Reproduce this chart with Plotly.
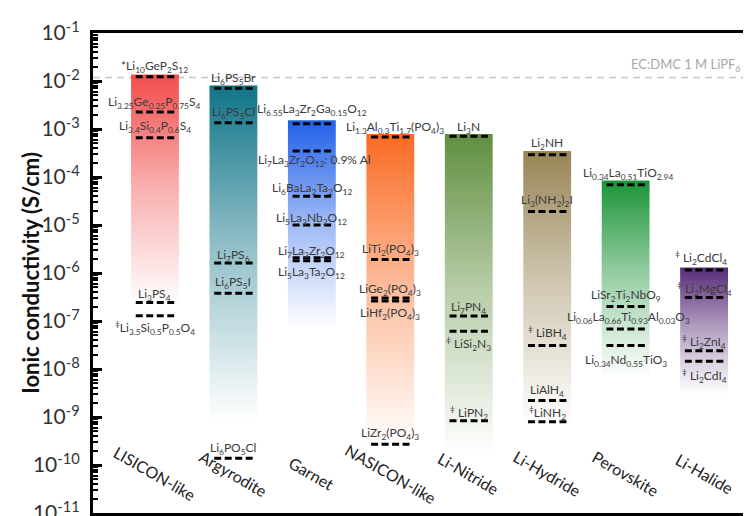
import math
import plotly.graph_objects as go

# ---------------- data ----------------
categories = ["LISICON-like", "Argyrodite", "Garnet", "NASICON-like",
              "Li-Nitride", "Li-Hydride", "Perovskite", "Li-Halide"]

# extent of each coloured column (S/cm)
bar_top = [1.36e-2, 8.1e-3, 1.53e-3, 7.9e-4, 7.9e-4, 3.5e-4, 8.5e-5, 1.30e-6]
bar_bottom = [1.4e-7, 4.5e-10, 5.0e-8, 1.35e-10, 9.0e-11, 3.9e-10, 4.8e-9, 2.7e-9]

lisicon_names = ["*Li<sub>10</sub>GeP<sub>2</sub>S<sub>12</sub>",
                 "Li<sub>3.25</sub>Ge<sub>0.25</sub>P<sub>0.75</sub>S<sub>4</sub>",
                 "Li<sub>3.4</sub>Si<sub>0.4</sub>P<sub>0.6</sub>S<sub>4</sub>",
                 "Li<sub>3</sub>PS<sub>4</sub>",
                 "<sup>‡</sup>Li<sub>3.5</sub>Si<sub>0.5</sub>P<sub>0.5</sub>O<sub>4</sub>"]
lisicon_values = [1.22e-2, 2.25e-3, 6.6e-4, 2.43e-7, 1.29e-7]

argyrodite_names = ["Li<sub>6</sub>PS<sub>5</sub>Br", "Li<sub>6</sub>PS<sub>5</sub>Cl",
                    "Li<sub>7</sub>PS<sub>6</sub>", "Li<sub>6</sub>PS<sub>5</sub>I",
                    "Li<sub>6</sub>PO<sub>5</sub>Cl"]
argyrodite_values = [7.1e-3, 1.35e-3, 1.62e-6, 3.8e-7, 1.38e-10]

garnet_names = ["Li<sub>6.55</sub>La<sub>3</sub>Zr<sub>2</sub>Ga<sub>0.15</sub>O<sub>12</sub>",
                "Li<sub>7</sub>La<sub>3</sub>Zr<sub>2</sub>O<sub>12</sub>: 0.9% Al",
                "Li<sub>6</sub>BaLa<sub>2</sub>Ta<sub>2</sub>O<sub>12</sub>",
                "Li<sub>5</sub>La<sub>3</sub>Nb<sub>2</sub>O<sub>12</sub>",
                "Li<sub>7</sub>La<sub>3</sub>Zr<sub>2</sub>O<sub>12</sub>",
                "Li<sub>5</sub>La<sub>3</sub>Ta<sub>2</sub>O<sub>12</sub>"]
garnet_values = [1.29e-3, 3.5e-4, 3.96e-5, 1.0e-5, 2.09e-6, 1.79e-6]

nasicon_names = ["Li<sub>1.3</sub>Al<sub>0.3</sub>Ti<sub>1.7</sub>(PO<sub>4</sub>)<sub>3</sub>",
                 "LiTi<sub>2</sub>(PO<sub>4</sub>)<sub>3</sub>",
                 "LiGe<sub>2</sub>(PO<sub>4</sub>)<sub>3</sub>",
                 "LiHf<sub>2</sub>(PO<sub>4</sub>)<sub>3</sub>",
                 "LiZr<sub>2</sub>(PO<sub>4</sub>)<sub>3</sub>"]
nasicon_values = [6.8e-4, 1.9e-6, 3.0e-7, 2.6e-7, 2.7e-10]

nitride_names = ["Li<sub>3</sub>N", "Li<sub>7</sub>PN<sub>4</sub>",
                 "<sup>‡</sup> LiSi<sub>2</sub>N<sub>3</sub>", "<sup>‡</sup> LiPN<sub>2</sub>"]
nitride_values = [7.1e-4, 1.27e-7, 6.1e-8, 8.4e-10]

hydride_names = ["Li<sub>2</sub>NH", "Li<sub>3</sub>(NH<sub>2</sub>)<sub>2</sub>I",
                 "<sup>‡</sup> LiBH<sub>4</sub>", "LiAlH<sub>4</sub>",
                 "<sup>‡</sup>LiNH<sub>2</sub>"]
hydride_values = [2.9e-4, 1.9e-5, 3.1e-8, 2.2e-9, 8.0e-10]

perovskite_names = ["Li<sub>0.34</sub>La<sub>0.51</sub>TiO<sub>2.94</sub>",
                    "LiSr<sub>2</sub>Ti<sub>2</sub>NbO<sub>9</sub>",
                    "Li<sub>0.06</sub>La<sub>0.66</sub>Ti<sub>0.93</sub>Al<sub>0.03</sub>O<sub>3</sub>",
                    "Li<sub>0.34</sub>Nd<sub>0.55</sub>TiO<sub>3</sub>"]
perovskite_values = [6.9e-5, 2.0e-7, 6.8e-8, 3.1e-8]

halide_names = ["<sup>‡</sup> Li<sub>2</sub>CdCl<sub>4</sub>",
                "<sup>‡</sup> Li<sub>2</sub>MgCl<sub>4</sub>",
                "<sup>‡</sup> Li<sub>2</sub>ZnI<sub>4</sub>",
                "<sup>‡</sup> Li<sub>2</sub>CdI<sub>4</sub>"]
halide_values = [1.16e-6, 3.1e-7, 2.4e-8, 1.45e-8]

ref_name = "EC:DMC 1 M LiPF<sub>6</sub>"
ref_value = 1.18e-2

y_tick_values = [1e-1, 1e-2, 1e-3, 1e-4, 1e-5, 1e-6, 1e-7, 1e-8, 1e-9, 1e-10, 1e-11]
y_tick_text = ["10<sup>-1</sup>", "10<sup>-2</sup>", "10<sup>-3</sup>", "10<sup>-4</sup>",
               "10<sup>-5</sup>", "10<sup>-6</sup>", "10<sup>-7</sup>", "10<sup>-8</sup>",
               "10<sup>-9</sup>", "10<sup>-10</sup>", "10<sup>-11</sup>"]

# ---------------- styles / positions ----------------
bar_colors = [(242, 72, 72), (8, 112, 132), (28, 92, 232), (250, 102, 28),
              (92, 140, 58), (150, 130, 82), (22, 146, 52), (86, 42, 118)]

# label vertical offset (px, + = above the dash) and horizontal offset (px)
label_dy = [
    [12, 12, 13, 10, -12],
    [12, 12, 9, 13, 12],
    [16, -10, 10, 9, 8, -12],
    [12, 12, 11, -12, 13],
    [11, 11, -13, 10],
    [13, 13, 14, 12, 11],
    [13, 13, 14, -15],
    [14, 10, 11, -15],
]
label_dx = [
    [0, 0, 0, 0, 0],
    [0, 0, 0, 0, 0],
    [0, 3, 0, 0, 0, 0],
    [5, 0, 0, 0, 0],
    [0, 0, 0, 0],
    [0, 0, 0, 0, 0],
    [2, 0, 3, 0],
    [-3, 0, 0, 0],
]

all_names = [lisicon_names, argyrodite_names, garnet_names, nasicon_names,
             nitride_names, hydride_names, perovskite_names, halide_names]
all_values = [lisicon_values, argyrodite_values, garnet_values, nasicon_values,
              nitride_values, hydride_values, perovskite_values, halide_values]

half_width = 0.305
dash_half = 0.245
x_range = [-0.79, 7.70]
FONT = "Lato, Open Sans, sans-serif"
label_font = dict(family=FONT, size=12, color="#3a3a3a")

fig = go.Figure()

# reference electrolyte line (under the columns)
fig.add_trace(go.Scatter(
    x=x_range, y=[ref_value, ref_value], mode="lines",
    line=dict(color="#c4c4c4", width=1.6, dash="7px,5px"),
    hoverinfo="skip", showlegend=False))

# gradient columns
for i, cat in enumerate(categories):
    r, g, b = bar_colors[i]
    x0, x1 = i - half_width, i + half_width
    fig.add_trace(go.Scatter(
        x=[x0, x1, x1, x0, x0],
        y=[bar_bottom[i], bar_bottom[i], bar_top[i], bar_top[i], bar_bottom[i]],
        mode="lines", fill="toself", line=dict(width=0, color="rgba(0,0,0,0)"),
        fillgradient=dict(type="vertical", start=bar_bottom[i], stop=bar_top[i],
                          colorscale=[[0, f"rgba({r},{g},{b},0)"],
                                      [0.05, f"rgba({r},{g},{b},0)"],
                                      [0.55, f"rgba({r},{g},{b},0.45)"],
                                      [1, f"rgba({r},{g},{b},0.97)"]]),
        hoverinfo="skip", showlegend=False, name=cat))

# dashed markers for each material
dx, dy = [], []
for i, vals in enumerate(all_values):
    for v in vals:
        dx += [i - dash_half, i + dash_half, None]
        dy += [v, v, None]
fig.add_trace(go.Scatter(
    x=dx, y=dy, mode="lines",
    line=dict(color="black", width=3, dash="7px,3.5px"),
    hoverinfo="skip", showlegend=False))

annotations = []
for i, (names, vals) in enumerate(zip(all_names, all_values)):
    for j, (nm, v) in enumerate(zip(names, vals)):
        annotations.append(dict(
            x=i, y=math.log10(v), xref="x", yref="y", text=nm, showarrow=False,
            xanchor="center", yanchor="middle",
            yshift=label_dy[i][j] + (-2 if label_dy[i][j] > 0 else 0),
            xshift=label_dx[i][j], font=label_font))

# category names
for i, cat in enumerate(categories):
    annotations.append(dict(
        x=i, y=-10.18, xref="x", yref="y", text=cat, showarrow=False,
        textangle=30, xanchor="center", yanchor="middle",
        font=dict(family=FONT, size=16, color="#222222")))

# reference label
annotations.append(dict(
    x=1, y=math.log10(ref_value), xref="paper", yref="y", text=ref_name,
    showarrow=False, xanchor="right", yanchor="bottom", xshift=-16, yshift=2,
    font=dict(family=FONT, size=13, color="#a8a8a8")))

# y-axis title
annotations.append(dict(
    x=-0.095, y=0.5, xref="paper", yref="paper", text="<b>Ionic conductivity (S/cm)</b>",
    showarrow=False, textangle=-90, xanchor="center", yanchor="middle",
    font=dict(family=FONT, size=22, color="#111111")))

fig.update_layout(
    width=751, height=516,
    margin=dict(l=85, r=0, t=25, b=6),
    paper_bgcolor="white", plot_bgcolor="white",
    showlegend=False,
    annotations=annotations,
    xaxis=dict(range=x_range, showgrid=False, zeroline=False, showticklabels=False,
               ticks="", showline=True, linecolor="black", linewidth=3, mirror=True),
    yaxis=dict(type="log", range=[-11, -1], showgrid=False, zeroline=False,
               showline=True, linecolor="black", linewidth=3,
               tickvals=y_tick_values, ticktext=y_tick_text,
               ticks="inside", ticklen=9, tickwidth=2.5, tickcolor="black",
               ticklabelstandoff=6, ticklabeloverflow="allow",
               minor=dict(ticks="inside", ticklen=5, tickwidth=1.5, tickcolor="black",
                          dtick="D1", showgrid=False),
               tickfont=dict(family=FONT, size=21, color="#333333")),
)

fig.write_html("out.html")
